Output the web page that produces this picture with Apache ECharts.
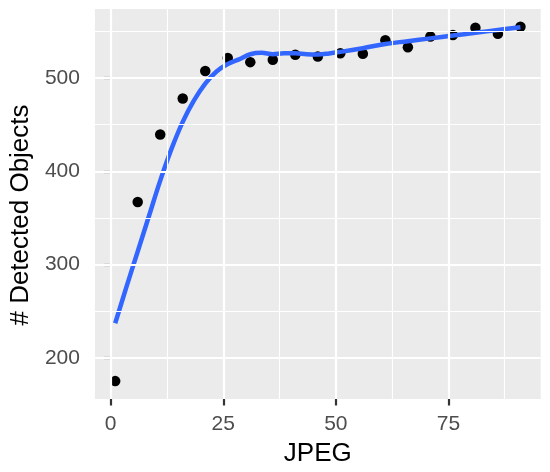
<!DOCTYPE html>
<html>
<head>
<meta charset="utf-8">
<script src="https://cdn.jsdelivr.net/npm/echarts@6/dist/echarts.min.js"></script>
<style>
html,body{margin:0;padding:0;background:#fff;}
#chart{width:550px;height:472px;}
</style>
</head>
<body>
<div id="chart"></div>
<script>
// ---- data ----
const jpegQuality = [1, 6, 11, 16, 21, 26, 31, 36, 41, 46, 51, 56, 61, 66, 71, 76, 81, 86, 91];
const detectedObjects = [175, 367, 439.5, 478, 507.5, 521.5, 517, 519.5, 525, 523, 526.5, 526, 540.5, 533, 544.5, 546, 554, 547.5, 555];
const smoothX = [1, 3.5, 6, 8.5, 11, 13.5, 16, 18.5, 21, 23.5, 26, 28.5, 31, 33.5, 36, 38.5, 41, 43.5, 46, 48.5, 51, 56, 61, 66, 71, 76, 81, 86, 91];
const smoothY = [237, 276, 314, 352, 390, 424, 453, 476, 494, 507, 515, 520, 525.5, 527, 525.5, 526.5, 526.5, 525.5, 525.3, 526.3, 528, 532, 536.5, 539.5, 542.5, 545.5, 548.5, 551.5, 554.5];
const xTickLabels = [0, 25, 50, 75];
const yTickLabels = [200, 300, 400, 500];
const xMinorBreaks = [12.5, 37.5, 62.5, 87.5];
const yMinorBreaks = [250, 350, 450, 550];
const xTitle = 'JPEG';
const yTitle = '# Detected Objects';

// ---- chart ----
const FONT = 'Liberation Sans, Arial, sans-serif';
const chart = echarts.init(document.getElementById('chart'), null, {renderer: 'canvas'});

const gridLines = [];
xTickLabels.forEach(v => gridLines.push({xAxis: v, lineStyle: {width: 2.2}}));
xMinorBreaks.forEach(v => gridLines.push({xAxis: v, lineStyle: {width: 1.1}}));
yTickLabels.forEach(v => gridLines.push({yAxis: v, lineStyle: {width: 2.2}}));
yMinorBreaks.forEach(v => gridLines.push({yAxis: v, lineStyle: {width: 1.1}}));

chart.setOption({
  animation: false,
  backgroundColor: '#ffffff',
  grid: {
    left: 90, right: 9.3, top: 9, bottom: 67,
    show: true, backgroundColor: '#EBEBEB', borderWidth: 0,
    containLabel: false
  },
  xAxis: {
    type: 'value', min: -3.5, max: 95.5,
    name: xTitle, nameLocation: 'middle', nameGap: 42,
    nameTextStyle: {fontFamily: FONT, fontSize: 26, color: '#000000'},
    axisLine: {show: false},
    splitLine: {show: false},
    axisTick: {show: true, customValues: xTickLabels, length: 6.5, lineStyle: {color: '#333333', width: 2.2}},
    axisLabel: {show: true, customValues: xTickLabels, margin: 15, fontFamily: FONT, fontSize: 21, color: '#4D4D4D'}
  },
  yAxis: {
    type: 'value', min: 155.8, max: 574,
    name: yTitle, nameLocation: 'middle', nameGap: 56, nameRotate: 90,
    nameTextStyle: {fontFamily: FONT, fontSize: 26, color: '#000000', padding: [0, 22, 0, 0]},
    axisLine: {show: false},
    splitLine: {show: false},
    axisTick: {show: true, customValues: yTickLabels, length: 6.5, lineStyle: {color: '#333333', width: 2.2}},
    axisLabel: {show: true, customValues: yTickLabels, margin: 15, fontFamily: FONT, fontSize: 21, color: '#4D4D4D'}
  },
  series: [
    {
      type: 'line', data: [], z: 1, silent: true,
      markLine: {
        silent: true, symbol: 'none', animation: false,
        label: {show: false},
        lineStyle: {color: '#ffffff', type: 'solid'},
        emphasis: {disabled: true},
        data: gridLines
      }
    },
    {
      type: 'scatter', z: 3,
      data: jpegQuality.map((x, i) => [x, detectedObjects[i]]),
      symbol: 'circle', symbolSize: 10.5,
      itemStyle: {color: '#000000', opacity: 1}
    },
    {
      type: 'line', z: 4,
      data: smoothX.map((x, i) => [x, smoothY[i]]),
      smooth: 0.4, showSymbol: false, symbol: 'none',
      lineStyle: {color: '#3366FF', width: 4.5}
    }
  ]
});
</script>
</body>
</html>
